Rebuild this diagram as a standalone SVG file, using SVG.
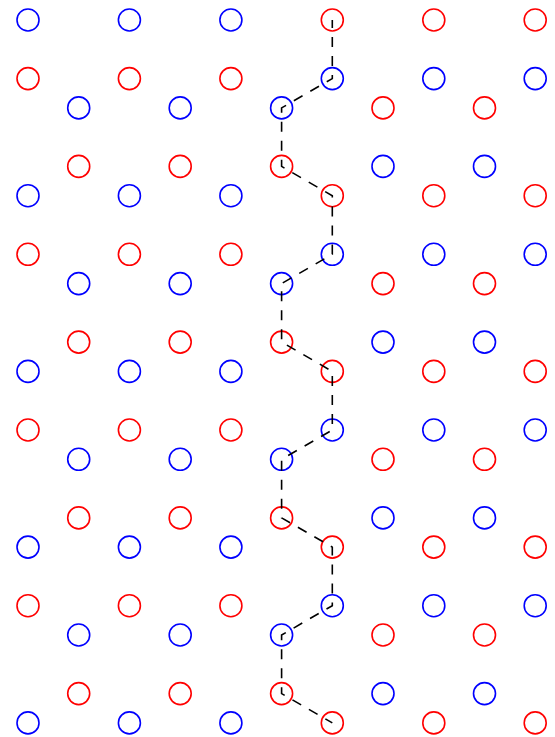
<svg xmlns="http://www.w3.org/2000/svg" width="555" height="737" viewBox="0 0 555 737">
<style>
.b{fill:none;stroke:#0000ff;stroke-width:1.6}
.r{fill:none;stroke:#ff0000;stroke-width:1.6}
.path{fill:none;stroke:#000;stroke-width:1.6;stroke-dasharray:10,9;stroke-dashoffset:2}
</style>
<rect width="555" height="737" fill="#fff"/>
<g id="nodes">
<g id="n-0-0"><circle class="b" cx="28" cy="20" r="11"/></g>
<g id="n-0-2"><circle class="b" cx="129.4" cy="20" r="11"/></g>
<g id="n-0-4"><circle class="b" cx="230.9" cy="20" r="11"/></g>
<g id="n-0-6"><circle class="r" cx="332.3" cy="20" r="11"/></g>
<g id="n-0-8"><circle class="r" cx="433.8" cy="20" r="11"/></g>
<g id="n-0-10"><circle class="r" cx="535.2" cy="20" r="11"/></g>
<g id="n-1-0"><circle class="r" cx="28" cy="78.6" r="11"/></g>
<g id="n-1-2"><circle class="r" cx="129.4" cy="78.6" r="11"/></g>
<g id="n-1-4"><circle class="r" cx="230.9" cy="78.6" r="11"/></g>
<g id="n-1-6"><circle class="b" cx="332.3" cy="78.6" r="11"/></g>
<g id="n-1-8"><circle class="b" cx="433.8" cy="78.6" r="11"/></g>
<g id="n-1-10"><circle class="b" cx="535.2" cy="78.6" r="11"/></g>
<g id="n-2-1"><circle class="b" cx="78.7" cy="107.9" r="11"/></g>
<g id="n-2-3"><circle class="b" cx="180.2" cy="107.9" r="11"/></g>
<g id="n-2-5"><circle class="b" cx="281.6" cy="107.9" r="11"/></g>
<g id="n-2-7"><circle class="r" cx="383" cy="107.9" r="11"/></g>
<g id="n-2-9"><circle class="r" cx="484.5" cy="107.9" r="11"/></g>
<g id="n-3-1"><circle class="r" cx="78.7" cy="166.4" r="11"/></g>
<g id="n-3-3"><circle class="r" cx="180.2" cy="166.4" r="11"/></g>
<g id="n-3-5"><circle class="r" cx="281.6" cy="166.4" r="11"/></g>
<g id="n-3-7"><circle class="b" cx="383" cy="166.4" r="11"/></g>
<g id="n-3-9"><circle class="b" cx="484.5" cy="166.4" r="11"/></g>
<g id="n-4-0"><circle class="b" cx="28" cy="195.7" r="11"/></g>
<g id="n-4-2"><circle class="b" cx="129.4" cy="195.7" r="11"/></g>
<g id="n-4-4"><circle class="b" cx="230.9" cy="195.7" r="11"/></g>
<g id="n-4-6"><circle class="r" cx="332.3" cy="195.7" r="11"/></g>
<g id="n-4-8"><circle class="r" cx="433.8" cy="195.7" r="11"/></g>
<g id="n-4-10"><circle class="r" cx="535.2" cy="195.7" r="11"/></g>
<g id="n-5-0"><circle class="r" cx="28" cy="254.3" r="11"/></g>
<g id="n-5-2"><circle class="r" cx="129.4" cy="254.3" r="11"/></g>
<g id="n-5-4"><circle class="r" cx="230.9" cy="254.3" r="11"/></g>
<g id="n-5-6"><circle class="b" cx="332.3" cy="254.3" r="11"/></g>
<g id="n-5-8"><circle class="b" cx="433.8" cy="254.3" r="11"/></g>
<g id="n-5-10"><circle class="b" cx="535.2" cy="254.3" r="11"/></g>
<g id="n-6-1"><circle class="b" cx="78.7" cy="283.6" r="11"/></g>
<g id="n-6-3"><circle class="b" cx="180.2" cy="283.6" r="11"/></g>
<g id="n-6-5"><circle class="b" cx="281.6" cy="283.6" r="11"/></g>
<g id="n-6-7"><circle class="r" cx="383" cy="283.6" r="11"/></g>
<g id="n-6-9"><circle class="r" cx="484.5" cy="283.6" r="11"/></g>
<g id="n-7-1"><circle class="r" cx="78.7" cy="342.1" r="11"/></g>
<g id="n-7-3"><circle class="r" cx="180.2" cy="342.1" r="11"/></g>
<g id="n-7-5"><circle class="r" cx="281.6" cy="342.1" r="11"/></g>
<g id="n-7-7"><circle class="b" cx="383" cy="342.1" r="11"/></g>
<g id="n-7-9"><circle class="b" cx="484.5" cy="342.1" r="11"/></g>
<g id="n-8-0"><circle class="b" cx="28" cy="371.4" r="11"/></g>
<g id="n-8-2"><circle class="b" cx="129.4" cy="371.4" r="11"/></g>
<g id="n-8-4"><circle class="b" cx="230.9" cy="371.4" r="11"/></g>
<g id="n-8-6"><circle class="r" cx="332.3" cy="371.4" r="11"/></g>
<g id="n-8-8"><circle class="r" cx="433.8" cy="371.4" r="11"/></g>
<g id="n-8-10"><circle class="r" cx="535.2" cy="371.4" r="11"/></g>
<g id="n-9-0"><circle class="r" cx="28" cy="430" r="11"/></g>
<g id="n-9-2"><circle class="r" cx="129.4" cy="430" r="11"/></g>
<g id="n-9-4"><circle class="r" cx="230.9" cy="430" r="11"/></g>
<g id="n-9-6"><circle class="b" cx="332.3" cy="430" r="11"/></g>
<g id="n-9-8"><circle class="b" cx="433.8" cy="430" r="11"/></g>
<g id="n-9-10"><circle class="b" cx="535.2" cy="430" r="11"/></g>
<g id="n-10-1"><circle class="b" cx="78.7" cy="459.3" r="11"/></g>
<g id="n-10-3"><circle class="b" cx="180.2" cy="459.3" r="11"/></g>
<g id="n-10-5"><circle class="b" cx="281.6" cy="459.3" r="11"/></g>
<g id="n-10-7"><circle class="r" cx="383" cy="459.3" r="11"/></g>
<g id="n-10-9"><circle class="r" cx="484.5" cy="459.3" r="11"/></g>
<g id="n-11-1"><circle class="r" cx="78.7" cy="517.9" r="11"/></g>
<g id="n-11-3"><circle class="r" cx="180.2" cy="517.9" r="11"/></g>
<g id="n-11-5"><circle class="r" cx="281.6" cy="517.9" r="11"/></g>
<g id="n-11-7"><circle class="b" cx="383" cy="517.9" r="11"/></g>
<g id="n-11-9"><circle class="b" cx="484.5" cy="517.9" r="11"/></g>
<g id="n-12-0"><circle class="b" cx="28" cy="547.1" r="11"/></g>
<g id="n-12-2"><circle class="b" cx="129.4" cy="547.1" r="11"/></g>
<g id="n-12-4"><circle class="b" cx="230.9" cy="547.1" r="11"/></g>
<g id="n-12-6"><circle class="r" cx="332.3" cy="547.1" r="11"/></g>
<g id="n-12-8"><circle class="r" cx="433.8" cy="547.1" r="11"/></g>
<g id="n-12-10"><circle class="r" cx="535.2" cy="547.1" r="11"/></g>
<g id="n-13-0"><circle class="r" cx="28" cy="605.7" r="11"/></g>
<g id="n-13-2"><circle class="r" cx="129.4" cy="605.7" r="11"/></g>
<g id="n-13-4"><circle class="r" cx="230.9" cy="605.7" r="11"/></g>
<g id="n-13-6"><circle class="b" cx="332.3" cy="605.7" r="11"/></g>
<g id="n-13-8"><circle class="b" cx="433.8" cy="605.7" r="11"/></g>
<g id="n-13-10"><circle class="b" cx="535.2" cy="605.7" r="11"/></g>
<g id="n-14-1"><circle class="b" cx="78.7" cy="635" r="11"/></g>
<g id="n-14-3"><circle class="b" cx="180.2" cy="635" r="11"/></g>
<g id="n-14-5"><circle class="b" cx="281.6" cy="635" r="11"/></g>
<g id="n-14-7"><circle class="r" cx="383" cy="635" r="11"/></g>
<g id="n-14-9"><circle class="r" cx="484.5" cy="635" r="11"/></g>
<g id="n-15-1"><circle class="r" cx="78.7" cy="693.6" r="11"/></g>
<g id="n-15-3"><circle class="r" cx="180.2" cy="693.6" r="11"/></g>
<g id="n-15-5"><circle class="r" cx="281.6" cy="693.6" r="11"/></g>
<g id="n-15-7"><circle class="b" cx="383" cy="693.6" r="11"/></g>
<g id="n-15-9"><circle class="b" cx="484.5" cy="693.6" r="11"/></g>
<g id="n-16-0"><circle class="b" cx="28" cy="722.9" r="11"/></g>
<g id="n-16-2"><circle class="b" cx="129.4" cy="722.9" r="11"/></g>
<g id="n-16-4"><circle class="b" cx="230.9" cy="722.9" r="11"/></g>
<g id="n-16-6"><circle class="r" cx="332.3" cy="722.9" r="11"/></g>
<g id="n-16-8"><circle class="r" cx="433.8" cy="722.9" r="11"/></g>
<g id="n-16-10"><circle class="r" cx="535.2" cy="722.9" r="11"/></g>
</g>
<g id="connectors">
<polyline class="path" points="332.3,20 332.3,78.6 281.6,107.9 281.6,166.4 332.3,195.7 332.3,254.3 281.6,283.6 281.6,342.1 332.3,371.4 332.3,430 281.6,459.3 281.6,517.9 332.3,547.1 332.3,605.7 281.6,635 281.6,693.6 332.3,722.9"/>
</g>
</svg>
